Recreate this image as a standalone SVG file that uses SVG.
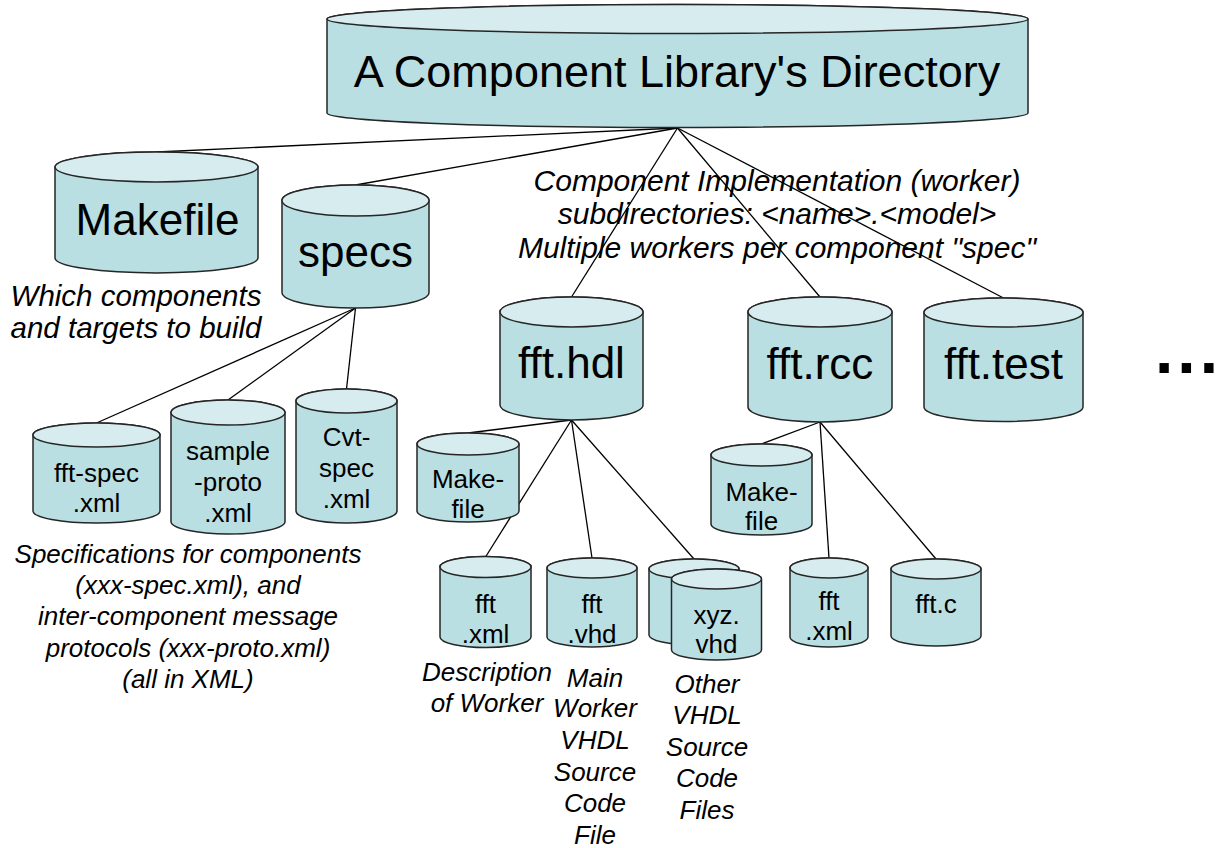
<svg xmlns="http://www.w3.org/2000/svg" width="1225" height="848" viewBox="0 0 1225 848">
<style>
.body{fill:#b9dfe2;stroke:#262626;stroke-width:1.5}
.top{fill:#d6ecef;stroke:#262626;stroke-width:1.5}
.lbl{font-family:"Liberation Sans",Arial,sans-serif;fill:#000;text-anchor:middle}
.big{font-size:44px}
.sm{font-size:26px}
.note{font-family:"Liberation Sans",Arial,sans-serif;font-style:italic;fill:#000;text-anchor:middle}
.conn line{stroke:#000;stroke-width:1.3}
</style>
<rect width="1225" height="848" fill="#fff"/>
<g class="conn" id="connectors">
<line x1="677.5" y1="128" x2="156.5" y2="152"/>
<line x1="677.5" y1="128" x2="355.5" y2="185"/>
<line x1="677.5" y1="128" x2="571.5" y2="297"/>
<line x1="677.5" y1="128" x2="820" y2="297"/>
<line x1="677.5" y1="128" x2="1003.5" y2="298"/>
<line x1="355.5" y1="308" x2="96.5" y2="423"/>
<line x1="355.5" y1="308" x2="228" y2="400"/>
<line x1="355.5" y1="308" x2="346.5" y2="389"/>
<line x1="571.5" y1="420" x2="468" y2="433"/>
<line x1="571.5" y1="420" x2="485.5" y2="557"/>
<line x1="571.5" y1="420" x2="592" y2="558"/>
<line x1="571.5" y1="420" x2="694" y2="559"/>
<line x1="820" y1="422" x2="761.5" y2="444"/>
<line x1="820" y1="422" x2="829" y2="558"/>
<line x1="820" y1="422" x2="936" y2="559"/>
</g>
<g id="root">
<path class="body" d="M327 19V113A350.5 14.5 0 0 0 1028 113V19A350.5 14.5 0 0 0 327 19Z"/>
<ellipse class="top" cx="677.5" cy="19" rx="350.5" ry="14.5"/>
<text class="lbl" x="677" y="87" font-size="45">A Component Library's Directory</text>
</g>
<g id="makefile">
<path class="body" d="M55 167V258A101.5 15 0 0 0 258 258V167A101.5 15 0 0 0 55 167Z"/>
<ellipse class="top" cx="156.5" cy="167" rx="101.5" ry="15"/>
<text class="lbl big" x="157.5" y="235">Makefile</text>
</g>
<g id="specs">
<path class="body" d="M282 200.5V292.5A73.5 15.5 0 0 0 429 292.5V200.5A73.5 15.5 0 0 0 282 200.5Z"/>
<ellipse class="top" cx="355.5" cy="200.5" rx="73.5" ry="15.5"/>
<text class="lbl big" x="355.5" y="267">specs</text>
</g>
<g id="fft-spec">
<path class="body" d="M33 435V511A63.5 12 0 0 0 160 511V435A63.5 12 0 0 0 33 435Z"/>
<ellipse class="top" cx="96.5" cy="435" rx="63.5" ry="12"/>
<text class="lbl sm" x="96.5" y="482">fft-spec</text>
<text class="lbl sm" x="96.5" y="512">.xml</text>
</g>
<g id="sample-proto">
<path class="body" d="M171 412.5V521.5A57 12.5 0 0 0 285 521.5V412.5A57 12.5 0 0 0 171 412.5Z"/>
<ellipse class="top" cx="228" cy="412.5" rx="57" ry="12.5"/>
<text class="lbl sm" x="228" y="460">sample</text>
<text class="lbl sm" x="228" y="491">-proto</text>
<text class="lbl sm" x="228" y="522">.xml</text>
</g>
<g id="cvt-spec">
<path class="body" d="M296 401V511A50.5 12 0 0 0 397 511V401A50.5 12 0 0 0 296 401Z"/>
<ellipse class="top" cx="346.5" cy="401" rx="50.5" ry="12"/>
<text class="lbl sm" x="346.5" y="446">Cvt-</text>
<text class="lbl sm" x="346.5" y="477">spec</text>
<text class="lbl sm" x="346.5" y="508">.xml</text>
</g>
<g id="fft-hdl">
<path class="body" d="M500 312V405A71.5 15 0 0 0 643 405V312A71.5 15 0 0 0 500 312Z"/>
<ellipse class="top" cx="571.5" cy="312" rx="71.5" ry="15"/>
<text class="lbl big" x="571.5" y="378">fft.hdl</text>
</g>
<g id="hdl-makefile">
<path class="body" d="M417 444V511A51 11 0 0 0 519 511V444A51 11 0 0 0 417 444Z"/>
<ellipse class="top" cx="468" cy="444" rx="51" ry="11"/>
<text class="lbl sm" x="468" y="488">Make-</text>
<text class="lbl sm" x="468" y="518">file</text>
</g>
<g id="hdl-fft-xml">
<path class="body" d="M440 567V637A45.5 10.5 0 0 0 531 637V567A45.5 10.5 0 0 0 440 567Z"/>
<ellipse class="top" cx="485.5" cy="567" rx="45.5" ry="10.5"/>
<text class="lbl sm" x="485.5" y="613">fft</text>
<text class="lbl sm" x="485.5" y="643">.xml</text>
</g>
<g id="fft-vhd">
<path class="body" d="M547 568V637A45 10 0 0 0 637 637V568A45 10 0 0 0 547 568Z"/>
<ellipse class="top" cx="592" cy="568" rx="45" ry="10"/>
<text class="lbl sm" x="592" y="613">fft</text>
<text class="lbl sm" x="592" y="643">.vhd</text>
</g>
<g id="other-vhd">
<path class="body" d="M649 569V635A45 10 0 0 0 739 635V569A45 10 0 0 0 649 569Z"/>
<ellipse class="top" cx="694" cy="569" rx="45" ry="10"/>
<path class="body" d="M671.5 579V650A45 10 0 0 0 761.5 650V579A45 10 0 0 0 671.5 579Z"/>
<ellipse class="top" cx="716.5" cy="579" rx="45" ry="10"/>
<text class="lbl sm" x="716.5" y="624">xyz.</text>
<text class="lbl sm" x="716.5" y="653">vhd</text>
</g>
<g id="fft-rcc">
<path class="body" d="M748 312V407A72 15 0 0 0 892 407V312A72 15 0 0 0 748 312Z"/>
<ellipse class="top" cx="820" cy="312" rx="72" ry="15"/>
<text class="lbl big" x="820" y="379">fft.rcc</text>
</g>
<g id="fft-test">
<path class="body" d="M924 312.5V407A79.5 14.5 0 0 0 1083 407V312.5A79.5 14.5 0 0 0 924 312.5Z"/>
<ellipse class="top" cx="1003.5" cy="312.5" rx="79.5" ry="14.5"/>
<text class="lbl big" x="1003.5" y="379">fft.test</text>
</g>
<g id="rcc-makefile">
<path class="body" d="M711 455V524A50.5 11 0 0 0 812 524V455A50.5 11 0 0 0 711 455Z"/>
<ellipse class="top" cx="761.5" cy="455" rx="50.5" ry="11"/>
<text class="lbl sm" x="761.5" y="501">Make-</text>
<text class="lbl sm" x="761.5" y="530">file</text>
</g>
<g id="rcc-fft-xml">
<path class="body" d="M790 568V637A39 10 0 0 0 868 637V568A39 10 0 0 0 790 568Z"/>
<ellipse class="top" cx="829" cy="568" rx="39" ry="10"/>
<text class="lbl sm" x="829" y="610">fft</text>
<text class="lbl sm" x="829" y="640">.xml</text>
</g>
<g id="fft-c">
<path class="body" d="M891 569V636A45 10 0 0 0 981 636V569A45 10 0 0 0 891 569Z"/>
<ellipse class="top" cx="936" cy="569" rx="45" ry="10"/>
<text class="lbl sm" x="936" y="613">fft.c</text>
</g>
<g id="ellipsis">
<text x="1155" y="373" font-family="'Liberation Sans',Arial,sans-serif" font-size="66" font-weight="bold" letter-spacing="4">...</text>
</g>
<g id="notes">
<text class="note" font-size="29.5" x="136" y="306">Which components</text>
<text class="note" font-size="29.5" x="136" y="338">and targets to build</text>
<text class="note" font-size="30" x="777" y="191">Component Implementation (worker)</text>
<text class="note" font-size="30" x="777" y="224">subdirectories: &lt;name&gt;.&lt;model&gt;</text>
<text class="note" font-size="30" x="777" y="258">Multiple workers per component "spec"</text>
<text class="note" font-size="26" x="188" y="563">Specifications for components</text>
<text class="note" font-size="26" x="188" y="594">(xxx-spec.xml), and</text>
<text class="note" font-size="26" x="188" y="625">inter-component message</text>
<text class="note" font-size="26" x="188" y="657">protocols (xxx-proto.xml)</text>
<text class="note" font-size="26" x="188" y="688">(all in XML)</text>
<text class="note" font-size="26" x="487" y="681">Description</text>
<text class="note" font-size="26" x="487" y="712">of Worker</text>
<text class="note" font-size="26" x="595" y="687">Main</text>
<text class="note" font-size="26" x="595" y="717">Worker</text>
<text class="note" font-size="26" x="595" y="749">VHDL</text>
<text class="note" font-size="26" x="595" y="781">Source</text>
<text class="note" font-size="26" x="595" y="812">Code</text>
<text class="note" font-size="26" x="595" y="844">File</text>
<text class="note" font-size="26" x="707" y="693">Other</text>
<text class="note" font-size="26" x="707" y="724">VHDL</text>
<text class="note" font-size="26" x="707" y="756">Source</text>
<text class="note" font-size="26" x="707" y="787">Code</text>
<text class="note" font-size="26" x="707" y="819">Files</text>
</g>
</svg>
